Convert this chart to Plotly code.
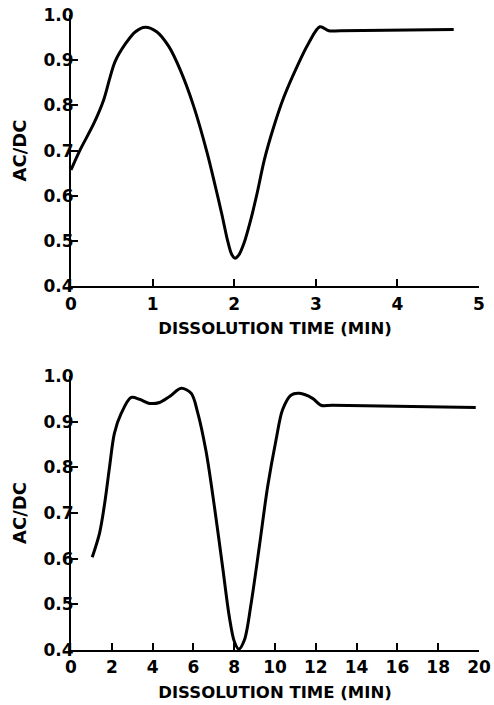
import plotly.graph_objects as go

# Top panel data
top_time = [0.0, 0.11, 0.28, 0.40, 0.48, 0.54, 0.67, 0.79, 0.91, 1.05, 1.20, 1.34, 1.50, 1.67,
            1.77, 1.85, 1.92, 1.97, 2.01, 2.06, 2.12, 2.20, 2.28, 2.37, 2.48, 2.61, 2.77, 2.91,
            3.05, 3.16, 3.30, 4.69]
top_acdc = [0.657, 0.701, 0.760, 0.812, 0.863, 0.897, 0.937, 0.963, 0.973, 0.963, 0.930, 0.878,
            0.800, 0.694, 0.620, 0.558, 0.500, 0.470, 0.462, 0.470, 0.495, 0.545, 0.605, 0.680,
            0.750, 0.819, 0.886, 0.937, 0.974, 0.965, 0.965, 0.968]

# Bottom panel data
bot_time = [1.04, 1.40, 1.65, 1.89, 2.13, 2.46, 2.95, 3.36, 3.85, 4.34, 4.83, 5.40, 5.89, 6.21,
            6.62, 7.03, 7.44, 7.76, 8.01, 8.22, 8.50, 8.83, 9.23, 9.64, 10.05, 10.37, 10.78,
            11.19, 11.84, 12.25, 12.82, 19.84]
bot_acdc = [0.603, 0.656, 0.721, 0.801, 0.875, 0.918, 0.953, 0.949, 0.940, 0.942, 0.955, 0.973,
            0.962, 0.920, 0.835, 0.714, 0.579, 0.473, 0.418, 0.402, 0.422, 0.502, 0.626, 0.758,
            0.860, 0.926, 0.958, 0.962, 0.951, 0.936, 0.936, 0.931]

y_ticks = [0.4, 0.5, 0.6, 0.7, 0.8, 0.9, 1.0]
top_x_ticks = [0, 1, 2, 3, 4, 5]
bot_x_ticks = [0, 2, 4, 6, 8, 10, 12, 14, 16, 18, 20]
x_title = "DISSOLUTION TIME (MIN)"
y_title = "AC/DC"

fig = go.Figure()
line_style = dict(color="black", width=3, shape="spline", smoothing=0.9)
fig.add_trace(go.Scatter(x=top_time, y=top_acdc, mode="lines", line=line_style,
                         xaxis="x", yaxis="y", showlegend=False, cliponaxis=False))
fig.add_trace(go.Scatter(x=bot_time, y=bot_acdc, mode="lines", line=line_style,
                         xaxis="x2", yaxis="y2", showlegend=False, cliponaxis=False))

tick_font = dict(family="DejaVu Sans", size=17, color="black", weight="bold")
xt_font = dict(family="DejaVu Sans", size=16.5, color="black", weight="bold")
yt_font = dict(family="DejaVu Sans", size=18, color="black", weight="bold")
axis_common = dict(showline=True, linecolor="black", linewidth=2, ticks="inside", ticklen=7,
                   tickwidth=2, tickcolor="black", showgrid=False, zeroline=False,
                   tickfont=tick_font, automargin=False, ticklabeloverflow="allow")

fig.update_layout(
    width=494, height=705, margin=dict(l=71, r=15, t=15, b=55),
    paper_bgcolor="white", plot_bgcolor="white",
    xaxis=dict(domain=[0, 1], anchor="y", range=[0, 5], tickvals=top_x_ticks, ticklabelstandoff=1,
               title=dict(text=x_title, font=xt_font, standoff=10), **axis_common),
    yaxis=dict(domain=[0.573, 1.0], anchor="x", range=[0.4, 1.0], tickvals=y_ticks, tickformat=".1f",
               ticklabelstandoff=-8,
               title=dict(text=y_title, font=yt_font, standoff=12), **axis_common),
    xaxis2=dict(domain=[0, 1], anchor="y2", range=[0, 20], tickvals=bot_x_ticks, ticklabelstandoff=1,
                title=dict(text=x_title, font=xt_font, standoff=10), **axis_common),
    yaxis2=dict(domain=[0, 0.4315], anchor="x2", range=[0.4, 1.0], tickvals=y_ticks, tickformat=".1f",
                ticklabelstandoff=-8,
                title=dict(text=y_title, font=yt_font, standoff=12), **axis_common),
)

# remove the browser's default 8px body margin so the figure fills the window exactly
fig.write_html("out.html", config={"displayModeBar": False},
               post_script="document.body.style.margin='0';")
